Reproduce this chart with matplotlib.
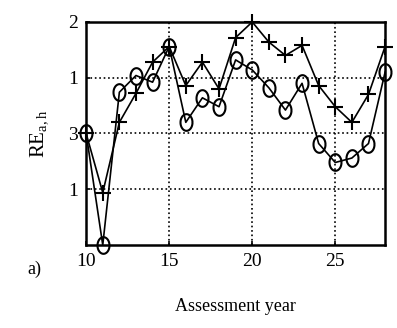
import numpy as np
import matplotlib.pyplot as plt

plt.rcParams['font.family'] = ['Liberation Serif', 'DejaVu Serif']
plt.rcParams['mathtext.fontset'] = 'custom'
plt.rcParams['mathtext.rm'] = 'Liberation Serif'

# Assessment years and the two RE series
years = [10, 11, 12, 13, 14, 15, 16, 17, 18, 19, 20, 21, 22, 23, 24, 25, 26, 27, 28]
re_circle = [1.00, 0.00, 1.37, 1.52, 1.46, 1.78, 1.10, 1.32, 1.24, 1.66, 1.57,
             1.41, 1.21, 1.45, 0.91, 0.74, 0.78, 0.91, 1.55]
re_cross = [1.00, 0.47, 1.10, 1.36, 1.64, 1.78, 1.43, 1.64, 1.40, 1.86, 2.00,
            1.82, 1.70, 1.79, 1.43, 1.24, 1.10, 1.35, 1.78]

x_ticks = [10, 15, 20, 25]
y_ticks = [0.5, 1.0, 1.5, 2.0]
y_tick_labels = ['1', '3', '1', '2']

# tall open ellipse used as the circle marker
theta = np.linspace(0, 2 * np.pi, 40)
ellipse = np.column_stack([0.72 * np.cos(theta), np.sin(theta)])

fig = plt.figure(figsize=(3.97, 3.28), dpi=100)
ax = fig.add_axes([0.217, 0.253, 0.753, 0.680])

ax.plot(years, re_circle, color='black', linewidth=1.2, marker=ellipse,
        markersize=12, markerfacecolor='none', markeredgewidth=1.5,
        clip_on=False)
ax.plot(years, re_cross, color='black', linewidth=1.2, marker='+',
        markersize=11, markeredgewidth=1.5, clip_on=False)

ax.set_xlim(10, 28)
ax.set_ylim(0, 2)
ax.set_xticks(x_ticks)
ax.set_yticks(y_ticks)
ax.set_yticklabels(y_tick_labels)
ax.tick_params(direction='in', length=3, labelsize=14, pad=6, width=1.2)
ax.grid(True, color='black', linestyle=':', linewidth=1.2)

for side in ax.spines.values():
    side.set_linewidth(1.8)

ax.set_ylabel(r'RE$_{\mathrm{a,h}}$', fontsize=15, labelpad=12)
ax.set_xlabel('Assessment year', fontsize=13, labelpad=20)
fig.text(0.07, 0.165, 'a)', fontsize=13)

fig.savefig('out.png', dpi=100)
